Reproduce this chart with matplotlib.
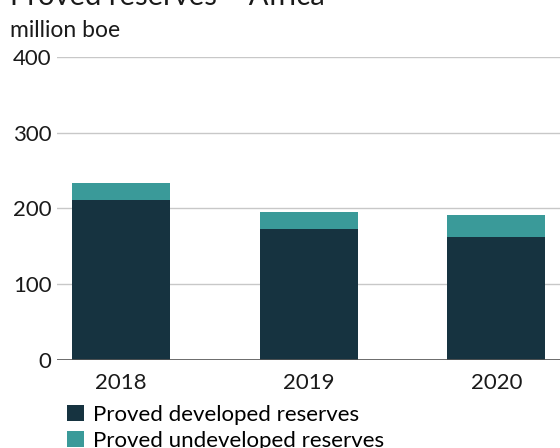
import numpy as np
import matplotlib
matplotlib.use("Agg")
import matplotlib.pyplot as plt
from matplotlib.patches import Patch

# Reserves by year, million boe
years = ["2018", "2019", "2020"]
developed = [211, 173, 162]
undeveloped = [23, 22, 29]
y_ticks = [0, 100, 200, 300, 400]

color_dev = "#163340"
color_undev = "#3a9a99"

plt.rcParams["font.family"] = ["Lato", "DejaVu Sans"]

fig = plt.figure(figsize=(5.6, 4.48), dpi=100)
ax = fig.add_axes([57 / 560, 0.1964, 1 - 57 / 560, 0.8734 - 0.1964])

x = np.arange(len(years))
ax.bar(x, developed, width=0.523, color=color_dev, zorder=3)
ax.bar(x, undeveloped, width=0.523, bottom=developed, color=color_undev, zorder=3)

ax.set_xlim(-0.343, 2.34)
ax.set_ylim(0, 400)
ax.set_yticks(y_ticks)
ax.set_xticks(x)
ax.set_xticklabels(years)
ax.tick_params(axis="both", length=0, labelsize=16, colors="#1a1a1a")
ax.tick_params(axis="y", pad=4)
ax.tick_params(axis="x", pad=9)

ax.grid(axis="y", color="#c8c8c8", linewidth=1, zorder=0)
for s in ax.spines.values():
    s.set_visible(False)
ax.axhline(0, color="#555555", linewidth=1.2, zorder=4)

fig.text(10 / 560, 1 - 5 / 448, "Proved reserves – Africa", fontsize=21,
         color="#1a1a1a", ha="left", va="baseline")
fig.text(10 / 560, 1 - 37 / 448, "million boe", fontsize=16.5,
         color="#1a1a1a", ha="left", va="baseline")

handles = [Patch(facecolor=color_dev, label="Proved developed reserves"),
           Patch(facecolor=color_undev, label="Proved undeveloped reserves")]
fig.legend(handles=handles, loc="upper left", bbox_to_anchor=(67 / 560, 1 - 405 / 448),
           frameon=False, fontsize=16, handlelength=0.75, handleheight=0.75,
           handletextpad=0.4, labelspacing=0.25, borderaxespad=0, borderpad=0)

fig.savefig("out.png", dpi=100)
